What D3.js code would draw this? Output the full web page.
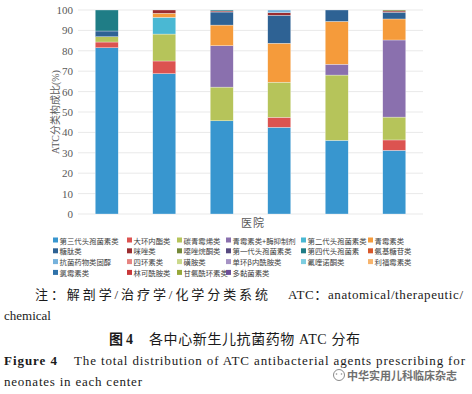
<!DOCTYPE html>
<html lang="zh">
<head>
<meta charset="UTF-8">
<title>ATC 分布</title>
<script src="https://d3js.org/d3.v7.min.js"></script>
<style>
  body { margin: 0; background: #fff; }
  svg { display: block; }
  .tick text { font-family: "Liberation Serif", serif; }
</style>
</head>
<body>
<div id="chart"></div>
<script>
// hospitals (x axis shows no labels)
const hospitals = ["H1", "H2", "H3", "H4", "H5", "H6"];

// ATC classes, in stacking / legend order
const classes = [
  "第三代头孢菌素类", "大环内酯类", "碳青霉烯类", "青霉素类+酶抑制剂", "第二代头孢菌素类", "青霉素类",
  "糖肽类", "咪唑类", "噁唑烷酮类", "第一代头孢菌素类", "第四代头孢菌素", "氨基糖苷类",
  "抗菌药物类固醇", "四环素类", "磺胺类", "单环β内酰胺类", "氟喹诺酮类", "利福霉素类",
  "氯霉素类", "林可酰胺类", "甘氨酰环素类", "多黏菌素类"
];
const colors = [
  "#3896cf", "#dc5350", "#b6c45a", "#8a70ae", "#4ab8d3", "#f59b3b",
  "#2e6294", "#9b2d30", "#75893a", "#574a80", "#1f7d86", "#d8582a",
  "#76b2dc", "#e68481", "#cbd98c", "#a592c4", "#7dcde0", "#f7b46d",
  "#2f72a9", "#c8383a", "#97a83a", "#6d4f98"
];

// percentage per class, one value per hospital
const gen3Ceph     = [81.5, 68.8, 45.7, 42.5, 36.1, 31.2];
const macrolide    = [2.8, 6.2, 0, 4.9, 0, 5.1];
const carbapenem   = [2.6, 13.2, 16.5, 17.2, 32.0, 11.2];
const penInhib     = [0, 0, 20.3, 0, 5.3, 37.8];
const gen2Ceph     = [0, 8.2, 0, 0, 0, 0];
const penicillin   = [0, 2.0, 10.1, 19.1, 21.0, 10.3];
const glycopeptide = [2.8, 0, 6.4, 13.7, 5.6, 3.3];
const imidazole    = [0, 1.6, 0.5, 1.3, 0, 0.6];
const oxazolidinone = [0, 0, 0, 0, 0, 0.5];
const gen1Ceph     = [0, 0, 0, 0, 0, 0];
const gen4Ceph     = [10.3, 0, 0.5, 0, 0, 0];
const aminoglycoside = [0, 0, 0, 0, 0, 0];
const steroidComb  = [0, 0, 0, 1.3, 0, 0];
const zeros = [0, 0, 0, 0, 0, 0];

const seriesValues = [
  gen3Ceph, macrolide, carbapenem, penInhib, gen2Ceph, penicillin,
  glycopeptide, imidazole, oxazolidinone, gen1Ceph, gen4Ceph, aminoglycoside,
  steroidComb, zeros, zeros, zeros, zeros, zeros,
  zeros, zeros, zeros, zeros
];

const yTicks = [0, 10, 20, 30, 40, 50, 60, 70, 80, 90, 100];

// build rows for d3.stack
const rows = hospitals.map((h, i) => {
  const r = { hospital: h };
  classes.forEach((c, k) => { r[c] = seriesValues[k][i]; });
  return r;
});

const width = 472, height = 394;
const plot = { left: 78, right: 423, top: 10, bottom: 214 };

const svg = d3.select("#chart").append("svg")
  .attr("width", width)
  .attr("height", height);

const x = d3.scaleBand()
  .domain(hospitals)
  .range([plot.left, plot.right])
  .paddingInner(0.6)
  .paddingOuter(0.3);

const y = d3.scaleLinear()
  .domain([0, 100])
  .range([plot.bottom, plot.top]);

// grid lines
svg.append("g")
  .selectAll("line")
  .data(yTicks)
  .join("line")
  .attr("x1", plot.left)
  .attr("x2", plot.right)
  .attr("y1", d => y(d))
  .attr("y2", d => y(d))
  .attr("stroke", "#e9e9e9")
  .attr("stroke-width", 1);

// y axis
const yAxis = svg.append("g")
  .attr("transform", `translate(${plot.left},0)`)
  .call(d3.axisLeft(y).tickValues(yTicks).tickSize(0).tickPadding(5));
yAxis.select(".domain").remove();
yAxis.selectAll("text")
  .attr("fill", "#595959")
  .style("font-size", "11px");

// stacked bars
const stacked = d3.stack().keys(classes)(rows);

svg.append("g")
  .selectAll("g")
  .data(stacked)
  .join("g")
  .attr("fill", (d, i) => colors[i])
  .selectAll("rect")
  .data(d => d.filter(s => s[1] - s[0] > 0))
  .join("rect")
  .attr("x", d => x(d.data.hospital))
  .attr("width", x.bandwidth())
  .attr("y", d => y(d[1]))
  .attr("height", d => y(d[0]) - y(d[1]))
  .attr("stroke", "#ffffff")
  .attr("stroke-opacity", 0.6)
  .attr("stroke-width", 0.5);

// axis titles
svg.append("text")
  .attr("transform", `translate(55,${(plot.top + plot.bottom) / 2}) rotate(-90)`)
  .attr("text-anchor", "middle")
  .attr("dominant-baseline", "central")
  .attr("fill", "#595959")
  .style("font-family", "'Liberation Serif', 'Noto Sans CJK SC', serif")
  .style("font-size", "10px")
  .text("ATC分类构成比(%)");

svg.append("text")
  .attr("x", 253)
  .attr("y", 227)
  .attr("text-anchor", "middle")
  .attr("fill", "#595959")
  .style("font-family", "'Noto Sans CJK SC', sans-serif")
  .style("font-size", "11px")
  .style("letter-spacing", "1px")
  .text("医院");

// legend: 6 columns, 4 rows
const legendCols = [53, 127, 177, 226, 301, 368];
const legendRowY = 240, legendRowH = 10.8;
const legend = svg.append("g")
  .selectAll("g")
  .data(classes)
  .join("g")
  .attr("transform", (d, i) => `translate(${legendCols[i % 6]},${legendRowY + Math.floor(i / 6) * legendRowH})`);

legend.append("rect")
  .attr("x", 0)
  .attr("y", -2.5)
  .attr("width", 5)
  .attr("height", 5)
  .attr("fill", (d, i) => colors[i]);

legend.append("text")
  .attr("x", 6.5)
  .attr("y", 0)
  .attr("dominant-baseline", "central")
  .attr("fill", "#404040")
  .style("font-family", "'Noto Sans CJK SC', sans-serif")
  .style("font-size", "7.4px")
  .text(d => d);

// caption
const cap = svg.append("g")
  .style("font-family", "'Liberation Serif', 'Noto Sans CJK SC', serif")
  .attr("fill", "#1a1a1a");

cap.append("text")
  .attr("x", 35).attr("y", 299)
  .attr("textLength", 233).attr("lengthAdjust", "spacing")
  .style("font-size", "13px")
  .text("注：解剖学/治疗学/化学分类系统");
cap.append("text")
  .attr("x", 288).attr("y", 299)
  .attr("textLength", 175).attr("lengthAdjust", "spacing")
  .style("font-size", "13px")
  .text("ATC：anatomical/therapeutic/");
cap.append("text")
  .attr("x", 4).attr("y", 320)
  .style("font-size", "13px")
  .text("chemical");

cap.append("text")
  .attr("x", 109).attr("y", 344)
  .attr("textLength", 24).attr("lengthAdjust", "spacing")
  .style("font-size", "14px")
  .style("font-weight", "bold")
  .text("图 4");
cap.append("text")
  .attr("x", 149).attr("y", 344)
  .attr("textLength", 211).attr("lengthAdjust", "spacing")
  .style("font-size", "14px")
  .text("各中心新生儿抗菌药物 ATC 分布");

cap.append("text")
  .attr("x", 4).attr("y", 365)
  .attr("textLength", 53).attr("lengthAdjust", "spacing")
  .style("font-size", "13px")
  .style("font-weight", "bold")
  .text("Figure 4");
cap.append("text")
  .attr("x", 74).attr("y", 365)
  .attr("textLength", 391).attr("lengthAdjust", "spacing")
  .style("font-size", "13px")
  .text("The total distribution of ATC antibacterial agents prescribing for");
cap.append("text")
  .attr("x", 4).attr("y", 386)
  .attr("textLength", 138).attr("lengthAdjust", "spacing")
  .style("font-size", "13px")
  .text("neonates in each center");

// watermark
const wm = svg.append("g").attr("fill", "none").attr("stroke", "#8a8a8a").attr("stroke-width", 1);
wm.append("circle").attr("cx", 339).attr("cy", 375).attr("r", 5.5);
wm.append("circle").attr("cx", 336.5).attr("cy", 374).attr("r", 0.8).attr("fill", "#8a8a8a").attr("stroke", "none");
wm.append("circle").attr("cx", 341.5).attr("cy", 374).attr("r", 0.8).attr("fill", "#8a8a8a").attr("stroke", "none");
svg.append("text")
  .attr("x", 347).attr("y", 375)
  .attr("dominant-baseline", "central")
  .attr("textLength", 110).attr("lengthAdjust", "spacing")
  .attr("fill", "#707070")
  .style("font-family", "'Noto Sans CJK SC', sans-serif")
  .style("font-size", "11px")
  .style("font-weight", "bold")
  .text("中华实用儿科临床杂志");
</script>
</body>
</html>
